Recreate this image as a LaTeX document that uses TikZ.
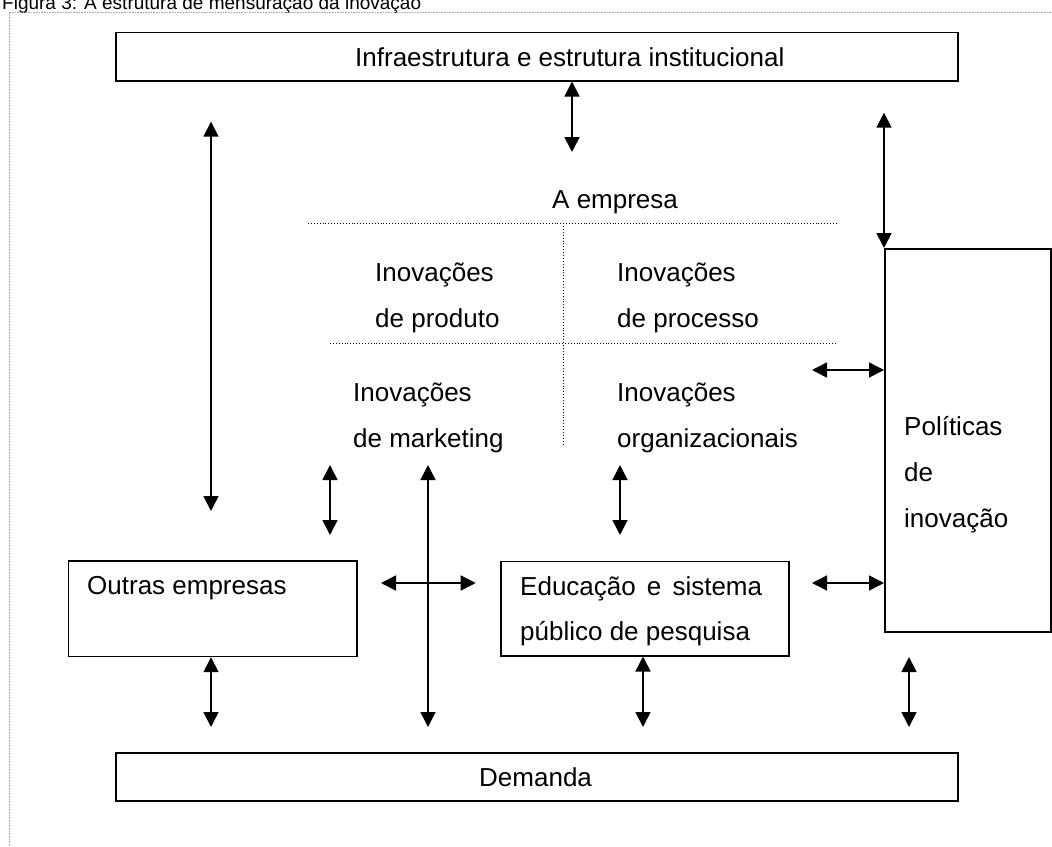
\documentclass[tikz,border=0pt]{standalone}
\usepackage{fontspec}
\setmainfont{Liberation Sans}
\usetikzlibrary{arrows.meta}
\newcommand\diagfont{\fontsize{26}{31}\selectfont}

\begin{document}
\begin{tikzpicture}[x=1pt,y=-1pt,
    box/.style={draw,line width=1.5pt,inner sep=0pt,anchor=north west},
    txt/.style={inner sep=0pt,anchor=base west,font=\diagfont},
    link/.style={{Triangle[length=15pt,width=15pt]}-{Triangle[length=15pt,width=15pt]},line width=1.6pt},
    sep/.style={dotted,line width=0.9pt}]
    \useasboundingbox (0,0) rectangle (1052,846);
    %\draw[help lines] (0,0) grid[step=50] (1052,846);
    \node[inner sep=0pt,anchor=base west,font=\fontsize{19}{22}\selectfont] (title) at (2,9.5) {Figura 3: A estrutura de mensuração da inovação};
    \draw[densely dotted,gray!70,line width=0.6pt] (9,846) -- (9,12) -- (1052,12);
    % caixas
    \node[box,minimum width=842pt,minimum height=48.3pt] (infra) at (115,31.7) {};
    \node[box,minimum width=288.3pt,minimum height=95.7pt] (outras) at (67.7,560) {};
    \node[box,minimum width=288pt,minimum height=94.3pt] (educ) at (500,560.7) {};
    \node[box,minimum width=166pt,minimum height=383pt] (polit) at (884,248) {};
    \node[box,minimum width=842pt,minimum height=48pt] (demanda) at (115,752) {};
    % textos
    \node[txt] (tinfra) at (355,66.7) {Infraestrutura e estrutura institucional};
    \node[txt] (tempresa) at (552,208) {A empresa};
    \node[txt] (tprod) at (375,281) {Inovações};
    \node[txt] (tprod2) at (375,327) {de produto};
    \node[txt] (tproc) at (617,281) {Inovações};
    \node[txt] (tproc2) at (617,327) {de processo};
    \node[txt] (tmark) at (353,401) {Inovações};
    \node[txt] (tmark2) at (353,447) {de marketing};
    \node[txt] (torg) at (617,401) {Inovações};
    \node[txt] (torg2) at (617,447) {organizacionais};
    \node[txt] (toutras) at (87,594) {Outras empresas};
    \node[txt] (teduc) at (520,595) {Educação\hspace{0.15em} e\hspace{0.15em} sistema};
    \node[txt] (teduc2) at (520,640) {público de pesquisa};
    \node[txt] (tpol) at (904,435) {Políticas};
    \node[txt] (tpol2) at (904,481) {de};
    \node[txt] (tpol3) at (904,527) {inovação};
    \node[txt] (tdem) at (479,786) {Demanda};
    % divisoes da empresa
    \coordinate (d1a) at (308,223); \coordinate (d1b) at (836,223);
    \coordinate (d2a) at (330,343); \coordinate (d2b) at (836,343);
    \coordinate (dva) at (563,226); \coordinate (dvb) at (563,445);
    \draw[sep] (d1a) -- (d1b);
    \draw[sep] (d2a) -- (d2b);
    \draw[sep] (dva) -- (dvb);
    % pontas livres das setas
    \coordinate (a1) at (572,152);
    \coordinate (a2t) at (211,121.7); \coordinate (a2b) at (211,511);
    \coordinate (a3) at (884,112.7);
    \coordinate (a4) at (812,370);
    \coordinate (a5t) at (330,465); \coordinate (a5b) at (330,535);
    \coordinate (a6t) at (428,465); \coordinate (a6b) at (428,727);
    \coordinate (a7t) at (620,465); \coordinate (a7b) at (620,535);
    \coordinate (a8l) at (381,583); \coordinate (a8r) at (475.7,583);
    \coordinate (a9) at (812,583);
    \coordinate (a10) at (211,727);
    \coordinate (a11) at (643,727);
    \coordinate (a12t) at (909,657); \coordinate (a12b) at (909,727);
    \draw[link] (infra.south -| a1) -- (a1);
    \draw[link] (a2t) -- (a2b);
    \draw[link] (a3) -- (polit.north west);
    \draw[link] (a4) -- (a4 -| polit.west);
    \draw[link] (a5t) -- (a5b);
    \draw[link] (a6t) -- (a6b);
    \draw[link] (a7t) -- (a7b);
    \draw[link] (a8l) -- (a8r);
    \draw[link] (a9) -- (a9 -| polit.west);
    \draw[link] (outras.south -| a10) -- (a10);
    \draw[link] (educ.south -| a11) -- (a11);
    \draw[link] (a12t) -- (a12b);
\end{tikzpicture}
\end{document}
